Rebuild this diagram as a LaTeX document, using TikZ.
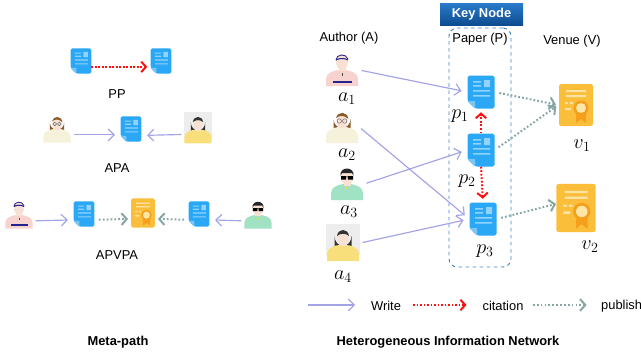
\documentclass[tikz,border=0pt]{standalone}
\usepackage{fontspec}
\setmainfont{Liberation Sans}
\usetikzlibrary{arrows.meta}

\definecolor{writec}{HTML}{A3A3E6}
\definecolor{citec}{HTML}{FF1010}
\definecolor{pubc}{HTML}{86A6A4}
\definecolor{paperblue}{HTML}{2AA8F6}
\definecolor{paperline}{HTML}{90D4FD}
\definecolor{paperfold}{HTML}{7CC6F4}
\definecolor{venuey}{HTML}{FBBE3A}
\definecolor{venueline}{HTML}{FDE3A2}
\definecolor{medal}{HTML}{F59F1A}
\definecolor{medalpale}{HTML}{FDE6A8}
\definecolor{keytop}{HTML}{2A7BCB}
\definecolor{keybot}{HTML}{0D4C90}
\definecolor{framec}{HTML}{3C85C5}
\definecolor{skin}{HTML}{F8E1D2}
\definecolor{pinkshirt}{HTML}{F8D2CE}
\definecolor{navy}{HTML}{23238F}
\definecolor{creamshirt}{HTML}{F6F1DA}
\definecolor{hairbrown}{HTML}{8B5A2B}
\definecolor{mintshirt}{HTML}{A2E2C4}
\definecolor{yellowshirt}{HTML}{F8DF7C}
\definecolor{bggrey}{HTML}{EDEDED}

\tikzset{
  % icons, drawn in pixel units around their centre
  pics/paper/.style={code={
    \fill[paperblue,rounded corners=1.5pt] (-13.5,-16.5) -- (13.5,-16.5) -- (13.5,16.5) -- (-6,16.5) -- (-13.5,9) -- cycle;
    \fill[paperfold] (-13.5,9) -- (-6,9) -- (-6,16.5) -- cycle;
    \fill[paperline] (-8,-11) rectangle (0,-9.5) (-8,-7) rectangle (0,-5.5)
      (3,-12) rectangle (9,-5) (-8,-2) rectangle (9,-0.5) (-8,3) rectangle (9,4.5);
  }},
  pics/venue/.style={code={
    \fill[venuey,rounded corners=2pt] (-17,-21) rectangle (17,21);
    \fill[venueline] (-10,-15) rectangle (10,-13) (-10,-10) rectangle (10,-8)
      (-11,-3) rectangle (-8,-1) (-6,-3) rectangle (-3,-1) (-11,3) rectangle (-5,5);
    \fill[medal] (0,8) -- (0,18) -- (5,14) -- (10,18) -- (10,8) -- cycle;
    \fill[medal] (5,3) circle (7.5);
    \fill[medalpale] (5,3) circle (5);
  }},
  pics/capman/.style={code={
    \fill[pinkshirt] (-16,16) -- (-16,9) .. controls (-16,3) and (-9,1) .. (-4,0) -- (4,0) .. controls (9,1) and (16,3) .. (16,9) -- (16,16) -- cycle;
    \fill[skin] (-3.5,-4) rectangle (3.5,1);
    \fill[skin] (0,-8) ellipse (6 and 8);
    \draw[navy,line width=.9pt] (-6,-10) .. controls (-3,-12) and (3,-12) .. (6,-10);
    \draw[navy,line width=.7pt] (-6,-10) .. controls (-6,-16) and (4,-17) .. (6,-11);
    \fill[navy] (-9,11) rectangle (10,12.6);
    \fill[black!70] (-0.4,3) rectangle (0.4,6);
  }},
  pics/glasswoman/.style={code={
    \fill[hairbrown] (-8.5,-8) arc (180:0:8.5 and 9) -- (8.5,4) -- (-8.5,4) -- cycle;
    \fill[creamshirt] (-16,16) -- (-16,9) .. controls (-16,3) and (-9,1) .. (-4,0) -- (4,0) .. controls (9,1) and (16,3) .. (16,9) -- (16,16) -- cycle;
    \fill[skin] (-3,-3) rectangle (3,1);
    \fill[skin] (0,-6) ellipse (5.5 and 7.5);
    \fill[hairbrown] (-6,-9) .. controls (-4,-16) and (5,-16) .. (6.5,-8) .. controls (2,-12) and (-2,-12) .. (-6,-9);
    \draw[black!60,line width=.4pt] (-2.7,-6) circle (2.2) (2.7,-6) circle (2.2) (-0.5,-6) -- (0.5,-6);
  }},
  pics/shadesman/.style={code={
    \fill[mintshirt] (-16,16) -- (-16,9) .. controls (-16,3) and (-9,1) .. (-4,0) -- (4,0) .. controls (9,1) and (16,3) .. (16,9) -- (16,16) -- cycle;
    \fill[skin] (-3.5,-4) rectangle (3.5,1.5);
    \fill[skin] (0,-7) ellipse (6 and 8);
    \fill[black!85] (-6.5,-8) .. controls (-8,-18) and (8,-18) .. (6.5,-8) -- (5,-11) -- (-5,-11) -- cycle;
    \fill[black] (-6,-8) rectangle (-0.8,-4.5) (0.8,-8) rectangle (6,-4.5) (-1,-7.5) rectangle (1,-6.8);
    \fill[yellow!80!orange] (0,4) circle (1.1);
  }},
  pics/bobwoman/.style={code={
    \fill[bggrey] (-17,-19) rectangle (17,12);
    \fill[black!80] (-8.5,-7) arc (180:0:8.5 and 10) -- (8.5,4) -- (-8.5,4) -- cycle;
    \fill[yellowshirt] (-16,18) -- (-16,11) .. controls (-16,5) and (-9,2.5) .. (-4,2) -- (4,2) .. controls (9,2.5) and (16,5) .. (16,11) -- (16,18) -- cycle;
    \fill[skin] (-3,-2) rectangle (3,3);
    \fill[skin] (0,-5) ellipse (5.5 and 7);
    \fill[black!80] (-6,-7) .. controls (-5,-15) and (5,-15) .. (6,-7) .. controls (3,-10) and (-3,-10) .. (-6,-7);
  }},
  personbox/.style={minimum width=1.02cm,minimum height=1.02cm,inner sep=0pt},
  paperbox/.style={minimum width=.81cm,minimum height=.99cm,inner sep=0pt},
  venuebox/.style={minimum width=1.05cm,minimum height=1.26cm,inner sep=0pt},
  smallperson/.style={minimum width=.84cm,minimum height=.84cm,inner sep=0pt},
  smallpaper/.style={minimum width=.6cm,minimum height=.75cm,inner sep=0pt},
  smallvenue/.style={minimum width=.74cm,minimum height=.88cm,inner sep=0pt},
  write/.style={draw=writec,line width=1pt,-{Straight Barb[length=5pt,width=10pt]},shorten >=5pt,shorten <=2pt},
  cite/.style={draw=citec,line width=1.7pt,dash pattern=on 1.5pt off 1.5pt,-{Straight Barb[length=4pt,width=9pt]},shorten >=3pt},
  publish/.style={draw=pubc,line width=1.7pt,dash pattern=on 1.5pt off 1.8pt,-{Straight Barb[length=4.5pt,width=10pt]},shorten >=2pt,shorten <=4pt},
  mathlbl/.style={font=\LARGE,inner sep=0pt},
  head/.style={font=\fontsize{11}{13}\selectfont\bfseries},
}

\begin{document}
\begin{tikzpicture}[x=0.03cm,y=-0.03cm,font=\fontsize{11}{13}\selectfont]
  \useasboundingbox (0,0) rectangle (641,351);

  % ---- meta-paths
  \node[smallpaper] (ppP1) at (81,61) {};
  \node[smallpaper] (ppP2) at (161,61) {};
  \pic[scale=.77] at (ppP1) {paper};
  \pic[scale=.77] at (ppP2) {paper};
  \draw[cite] ([yshift=-5pt]ppP1.east) -- ([yshift=-5pt]ppP2.west);
  \node (ppLbl) at (117,94) {PP};

  \node[smallperson] (apaA1) at (57,129) {};
  \node[smallpaper] (apaP) at (131,129) {};
  \node[smallperson] (apaA2) at (198,128) {};
  \pic[scale=.85] at (apaA1) {glasswoman};
  \pic[scale=.77] at (apaP) {paper};
  \pic[scale=.85] at (apaA2) {bobwoman};
  \draw[write] ([yshift=-5pt]apaA1.east) -- ([yshift=-5pt]apaP.west);
  \draw[write] ([yshift=-5.5pt]apaA2.west) -- ([yshift=-5.5pt]apaP.east);
  \node (apaLbl) at (117,168) {APA};

  \node[smallperson] (apvpaA1) at (19,215) {};
  \node[smallpaper] (apvpaP1) at (84,214) {};
  \node[smallvenue] (apvpaV) at (143,213) {};
  \node[smallpaper] (apvpaP2) at (199,214) {};
  \node[smallperson] (apvpaA2) at (258,215) {};
  \pic[scale=.85] at (apvpaA1) {capman};
  \pic[scale=.77] at (apvpaP1) {paper};
  \pic[scale=.7] at (apvpaV) {venue};
  \pic[scale=.77] at (apvpaP2) {paper};
  \pic[scale=.85] at (apvpaA2) {shadesman};
  \draw[write] ([yshift=-5pt]apvpaA1.east) -- ([yshift=-5pt]apvpaP1.west);
  \draw[publish] ([yshift=-5pt]apvpaP1.east) -- ([yshift=-5pt]apvpaV.west);
  \draw[publish] ([yshift=-5pt]apvpaP2.west) -- ([yshift=-5pt]apvpaV.east);
  \draw[write] ([yshift=-5pt]apvpaA2.west) -- ([yshift=-5pt]apvpaP2.east);
  \node (apvpaLbl) at (117,255) {APVPA};

  \node[head] (metaTitle) at (118,342) {Meta-path};

  % ---- heterogeneous network
  \node[top color=keytop,bottom color=keybot,text=white,font=\fontsize{11}{13}\selectfont\bfseries,
        minimum width=2.49cm,minimum height=.66cm] (key) at (481.5,14) {Key Node};
  \node[draw=framec,dashed,line width=.8pt,rounded corners=7pt,
        minimum width=1.86cm,minimum height=7.17cm] (frame) at (480,147.5) {};

  \node (authT) at (349,38) {Author (A)};
  \node (paperT) at (480,39) {Paper (P)};
  \node (venueT) at (572,41) {Venue (V)};

  \node[personbox] (a1) at (342,70) {};
  \node[personbox] (a2) at (342,127) {};
  \node[personbox] (a3) at (347,184) {};
  \node[personbox] (a4) at (343,243) {};
  \pic at (a1) {capman};
  \pic at (a2) {glasswoman};
  \pic at (a3) {shadesman};
  \pic at (a4) {bobwoman};

  \foreach \n/\x/\y in {p1/481/92,p2/481/150,p3/483/219}{
    \node[paperbox] (\n) at (\x,\y) {};
    \pic at (\n) {paper};
  }
  \node[venuebox] (v1) at (576,105) {};
  \node[venuebox] (v2) at (576,208) {};
  \pic at (v1) {venue};
  \pic[scale=1.15] at (v2) {venue};

  \node[mathlbl] (la1) at (347,99) {$a_1$};
  \node[mathlbl] (la2) at (347,155) {$a_2$};
  \node[mathlbl] (la3) at (349,212) {$a_3$};
  \node[mathlbl] (la4) at (343,277) {$a_4$};
  \node[mathlbl] (lp1) at (460,116) {$p_1$};
  \node[mathlbl] (lp2) at (467,181) {$p_2$};
  \node[mathlbl] (lp3) at (485,251) {$p_3$};
  \node[mathlbl] (lv1) at (582,146) {$v_1$};
  \node[mathlbl] (lv2) at (590,247) {$v_2$};

  \draw[write] (a1.east) -- (p1.west);
  \draw[write] (a2.east) -- (p3.west);
  \draw[write] (a3.east) -- (p2.west);
  \draw[write] (a4.east) -- (p3.west);
  \draw[cite] (p2.north) -- (p1.south);
  \draw[cite] (p2.south) -- (p3.north);
  \draw[publish] (p1.east) -- (v1.west);
  \draw[publish] (p2.east) -- (v1.west);
  \draw[publish] (p3.east) -- ([yshift=4pt]v2.west);

  % legend
  \coordinate (w0) at (306,305);
  \coordinate (w1) at (361,305);
  \coordinate (c0) at (413,305);
  \coordinate (c1) at (470,305);
  \coordinate (u0) at (533,305);
  \coordinate (u1) at (589,305);
  \draw[write] (w0) -- (w1);
  \draw[cite] (c0) -- (c1);
  \draw[publish,shorten <=0pt] (u0) -- (u1);
  \node (wT) at (386,306) {Write};
  \node (cT) at (503,306) {citation};
  \node[anchor=west,inner sep=0pt] (uT) at (601,306) {publish};

  \node[head] (hinTitle) at (448,342) {Heterogeneous Information Network};
\end{tikzpicture}
\end{document}
